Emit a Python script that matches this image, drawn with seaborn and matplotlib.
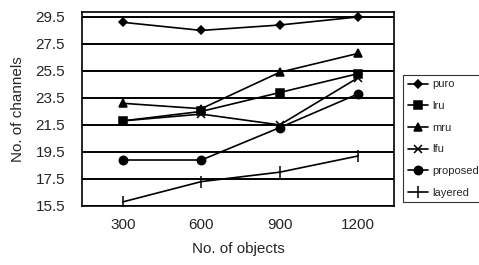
import seaborn as sns
import matplotlib.pyplot as plt
import pandas as pd

# values
objects = [300, 600, 900, 1200]
puro = [29.1, 28.5, 28.9, 29.5]
lru = [21.8, 22.5, 23.9, 25.3]
mru = [23.1, 22.7, 25.4, 26.8]
lfu = [21.8, 22.3, 21.5, 25.0]
proposed = [18.9, 18.9, 21.3, 23.8]
layered = [15.8, 17.3, 18.0, 19.2]

y_ticks = [15.5, 17.5, 19.5, 21.5, 23.5, 25.5, 27.5, 29.5]

series = {
    "puro": (puro, "D", 4),
    "lru": (lru, "s", 6),
    "mru": (mru, "^", 6),
    "lfu": (lfu, "x", 6),
    "proposed": (proposed, "o", 6),
    "layered": (layered, "|", 8),
}

sns.set_style("white")
plt.rcParams["font.family"] = ["Liberation Sans", "DejaVu Sans"]

fig = plt.figure(figsize=(4.79, 2.65), dpi=100)
ax = fig.add_axes([0.171, 0.223, 0.652, 0.732])

# horizontal grid lines
for y in y_ticks:
    ax.axhline(y, color="black", lw=1.4, zorder=1)

for name, (vals, mk, ms) in series.items():
    df = pd.DataFrame({"objects": objects, "channels": vals})
    sns.lineplot(data=df, x="objects", y="channels", ax=ax, color="black",
                 marker=mk, markersize=ms, markeredgecolor="black",
                 markeredgewidth=1.1, lw=1.2, label=name, zorder=3)

ax.set_xlim(143, 1338)
ax.set_ylim(15.5, 29.87)
ax.set_xticks(objects)
ax.set_yticks(y_ticks)
ax.set_yticklabels([f"{v:.1f}" for v in y_ticks])
ax.tick_params(axis="both", labelsize=11, length=0)
ax.tick_params(axis="y", pad=12)
ax.tick_params(axis="x", pad=9)
ax.set_xlabel("No. of objects", fontsize=11, labelpad=7)
ax.set_ylabel("No. of channels", fontsize=11, labelpad=8)
for s in ax.spines.values():
    s.set_color("black")
    s.set_linewidth(1.2)

leg = ax.legend(loc="upper left", bbox_to_anchor=(1.029, 0.675), fontsize=8,
                frameon=True, fancybox=False, edgecolor="black",
                handlelength=1.8, handletextpad=0.4, labelspacing=1.05,
                borderaxespad=0)
leg.get_frame().set_linewidth(0.8)

fig.savefig("out.png", dpi=100)
